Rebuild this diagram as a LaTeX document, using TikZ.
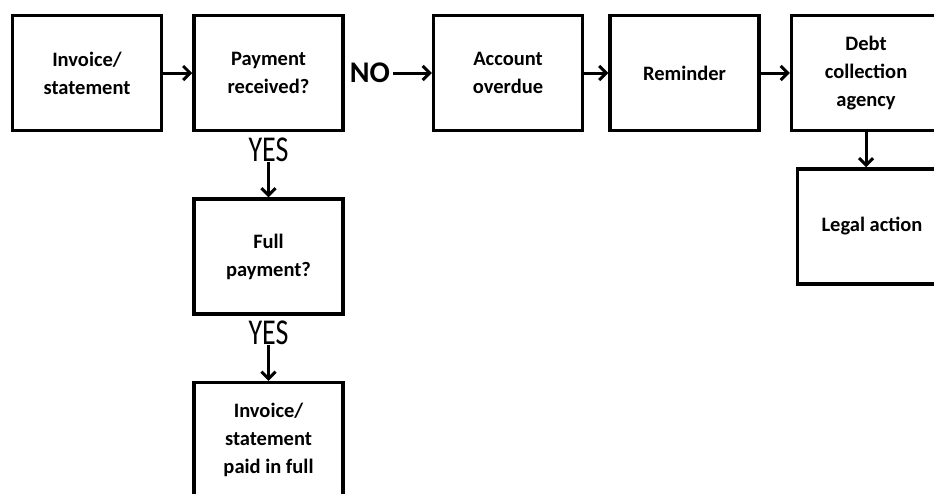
\documentclass[tikz,border=0pt]{standalone}
\usepackage{fontspec}
\setmainfont{Carlito}
\usetikzlibrary{positioning,arrows.meta}

\begin{document}
\begin{tikzpicture}[>={Straight Barb[length=7pt,width=14pt]}, node distance=29pt, auto,
  block/.style={draw, line width=3.5pt, minimum width=149pt, minimum height=115pt,
    align=center, font=\fontsize{20.5}{28}\selectfont\bfseries},
  lbl/.style={inner sep=0pt, font=\fontsize{28}{28}\selectfont},
  link/.style={->, line width=3pt}]
\useasboundingbox (0,0) rectangle (934pt,-493pt);
\clip (0,0) rectangle (934pt,-493pt);
\node[block] (inv) at (87pt,-73pt) {Invoice/\\statement};
\node[block, right=of inv] (pay) {Payment\\received?};
\node[lbl, font=\fontsize{30}{30}\selectfont\bfseries, inner xsep=3pt, right=2pt of pay] (no) {NO};
\node[block, right=87pt of pay] (acc) {Account\\overdue};
\node[block, right=24pt of acc] (rem) {Reminder};
\node[block, right=of rem] (debt) {Debt\\collection\\agency};
\node[block, below=35pt of debt, xshift=6pt] (legal) {Legal action};
\node[lbl, below=5pt of pay] (yes1) {\scalebox{1}[1.3]{YES}};
\node[block, below=65pt of pay] (full) {Full\\payment?};
\node[lbl, below=5pt of full] (yes2) {\scalebox{1}[1.3]{YES}};
\node[block, below=65pt of full] (paid) {Invoice/\\statement\\paid in full};
\draw[link] (inv) -- (pay);
\draw[link] (no) -- (acc);
\draw[link] (acc) -- (rem);
\draw[link] (rem) -- (debt);
\draw[link] (debt.south) -- (debt.south |- legal.north);
\draw[link] (yes1) -- (full);
\draw[link] (yes2) -- (paid);
\end{tikzpicture}
\end{document}
